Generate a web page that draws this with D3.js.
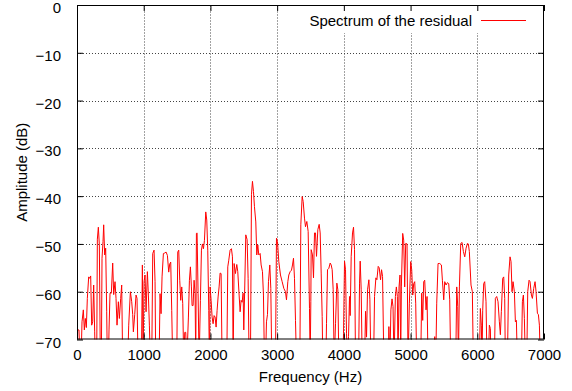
<!DOCTYPE html>
<html>
<head>
<meta charset="utf-8">
<script src="https://d3js.org/d3.v7.min.js"></script>
<style>
  body { margin: 0; background: #fff; }
  text { font-family: "Liberation Sans", Arial, sans-serif; }
</style>
</head>
<body>
<svg id="chart" width="572" height="391"></svg>
<script>
var xTicks = [0, 1000, 2000, 3000, 4000, 5000, 6000, 7000]
var yTicks = [0, -10, -20, -30, -40, -50, -60, -70]
var seriesName = 'Spectrum of the residual'

// [frequency Hz, amplitude dB]; values below -70 are off the plot
var spectrum = [
  [0,-75],[10,-68],[30,-68],[45,-75],[60,-75],[75,-66.3],[95,-63.8],[110,-68],[125,-65.6],[140,-67.5],
  [155,-61.4],[175,-56.9],[190,-57.2],[205,-56.7],[220,-67],[235,-66.3],[250,-58.6],[265,-68.4],[275,-75],
  [295,-75],[305,-49],[320,-46.5],[335,-50.2],[350,-75],[365,-75],[375,-53],[390,-49.5],[400,-46],
  [415,-52.3],[430,-50.9],[445,-64.2],[455,-75],[470,-75],[480,-68],[495,-60.3],[515,-60.3],[535,-54],
  [550,-60.6],[570,-57.9],[585,-61.4],[600,-67],[620,-62.1],[635,-65.6],[655,-61.4],[670,-58.6],[685,-75],
  [760,-75],[775,-67],[800,-60],[820,-62.1],[835,-64.8],[845,-68.4],[865,-64.8],[885,-60.7],[900,-61.4],
  [915,-75],[965,-75],[980,-54.4],[990,-75],[1005,-57.9],[1020,-56.5],[1035,-64.2],[1055,-55.8],
  [1070,-60.7],[1085,-67],[1100,-75],[1120,-75],[1135,-52],[1155,-51.3],[1170,-57.9],[1180,-75],
  [1230,-75],[1245,-60.4],[1260,-64.6],[1275,-56.9],[1295,-52],[1315,-51.9],[1335,-51.7],[1355,-52.4],
  [1375,-55.9],[1390,-54.2],[1405,-53.8],[1420,-63.9],[1435,-75],[1495,-75],[1510,-51.7],[1525,-51.3],
  [1540,-57.6],[1555,-61.8],[1570,-59],[1585,-62.5],[1600,-75],[1615,-68.5],[1630,-68.5],[1645,-75],
  [1670,-65.3],[1685,-57.6],[1700,-54.8],[1715,-59],[1725,-62.9],[1740,-62.9],[1755,-57.6],[1770,-60.4],
  [1780,-75],[1790,-47.8],[1800,-47.7],[1815,-60.4],[1830,-75],[1850,-61.8],[1865,-51.3],[1880,-50],
  [1895,-51],[1910,-49.3],[1930,-43.3],[1945,-45],[1960,-51.3],[1975,-63.9],[1985,-75],[1995,-59],
  [2010,-61.8],[2025,-65.3],[2040,-66.7],[2055,-65],[2070,-65.3],[2085,-67.4],[2100,-63.9],[2115,-61.1],
  [2130,-59],[2145,-56.1],[2160,-56.2],[2175,-75],[2245,-75],[2260,-54.8],[2275,-53.4],[2295,-51.3],
  [2315,-51],[2330,-52.7],[2340,-75],[2355,-54.1],[2375,-56.2],[2395,-54.3],[2410,-55.8],[2430,-60.7],
  [2445,-64.2],[2460,-61.8],[2475,-62.2],[2490,-60.3],[2500,-68],[2515,-58.6],[2530,-48.1],[2550,-49.1],
  [2565,-57.2],[2580,-75],[2600,-75],[2615,-39.7],[2630,-36.9],[2645,-39],[2660,-42.2],[2680,-45.4],
  [2695,-52.3],[2710,-50.2],[2725,-52.3],[2745,-52],[2760,-54.4],[2780,-55.8],[2795,-60.7],[2810,-75],
  [2825,-75],[2840,-66.3],[2855,-64.8],[2870,-57.9],[2890,-54.4],[2905,-59.3],[2920,-75],[2975,-75],
  [2990,-48.8],[3005,-49.5],[3025,-53.7],[3050,-56.5],[3075,-57.9],[3100,-59.3],[3125,-60],[3140,-61.7],
  [3160,-57.9],[3175,-56.5],[3195,-55.8],[3215,-55.5],[3230,-54.4],[3245,-53],[3260,-57.2],[3275,-66],
  [3290,-75],[3340,-75],[3355,-46],[3375,-40.1],[3390,-41.1],[3410,-44.6],[3425,-46.4],[3445,-45.3],
  [3465,-47.4],[3485,-63.5],[3495,-75],[3505,-62],[3510,-51.2],[3530,-52.3],[3545,-57.1],[3560,-47.7],
  [3575,-47.7],[3590,-52.6],[3610,-47],[3630,-45.9],[3645,-47.7],[3660,-56.1],[3675,-65.2],[3685,-75],
  [3730,-75],[3740,-66.7],[3755,-55.4],[3775,-55.1],[3795,-54],[3810,-54.4],[3825,-55.4],[3840,-59.6],
  [3855,-75],[3875,-66.7],[3895,-58.2],[3910,-59.6],[3925,-75],[3985,-75],[3995,-68.8],[4010,-53.6],
  [4025,-55.4],[4040,-68.8],[4055,-75],[4070,-69.4],[4085,-61],[4095,-65],[4110,-52.6],[4130,-47.7],
  [4145,-46.5],[4160,-51.2],[4175,-75],[4220,-75],[4235,-58.2],[4245,-53.6],[4260,-59.6],[4275,-75],
  [4310,-75],[4325,-64.1],[4340,-69.5],[4355,-59.6],[4375,-57.5],[4390,-61.7],[4405,-75],[4445,-75],
  [4460,-61],[4480,-57.1],[4495,-57.5],[4515,-54.7],[4530,-55],[4550,-57.5],[4565,-55.4],[4580,-56.8],
  [4600,-75],[4665,-75],[4675,-67.3],[4690,-75],[4705,-63.8],[4722,-61.5],[4737,-63.1],[4752,-75],
  [4772,-61],[4787,-59],[4802,-61],[4812,-75],[4827,-59],[4842,-56.5],[4852,-75],[4862,-59],[4882,-47.8],
  [4897,-49.2],[4912,-59],[4927,-49.9],[4947,-50],[4962,-75],[4982,-62.4],[5002,-53.7],[5017,-55.4],
  [5032,-60.7],[5047,-58.3],[5062,-57.9],[5077,-62.4],[5092,-75],[5152,-75],[5167,-60.3],[5182,-66],
  [5197,-57.9],[5212,-57.6],[5232,-63.8],[5247,-61],[5262,-75],[5352,-75],[5362,-69.4],[5377,-75],
  [5392,-62.4],[5412,-54.1],[5437,-54.1],[5462,-54.4],[5477,-57.6],[5497,-61.7],[5512,-57.9],[5532,-58.6],
  [5552,-58.1],[5572,-58.3],[5587,-61.7],[5602,-75],[5677,-75],[5692,-59],[5707,-63.1],[5717,-75],
  [5732,-59],[5752,-49.9],[5772,-49.7],[5792,-51.6],[5812,-52.7],[5832,-50.9],[5852,-49.9],[5866,-50],
  [5881,-51.6],[5906,-58.6],[5926,-60],[5941,-75],[6031,-75],[6046,-63.5],[6061,-67],[6071,-75],
  [6081,-64],[6096,-58.3],[6111,-57.9],[6131,-62.1],[6146,-75],[6166,-75],[6181,-67],[6196,-67.7],
  [6206,-75],[6256,-75],[6271,-61.4],[6291,-61],[6311,-62.1],[6331,-66.3],[6346,-69],[6361,-64.1],
  [6381,-57.2],[6396,-56.9],[6411,-61.4],[6421,-75],[6451,-75],[6471,-56.5],[6491,-52.7],[6506,-53.7],
  [6521,-60],[6536,-57.9],[6556,-60],[6571,-66.3],[6586,-66],[6601,-75],[6661,-75],[6676,-62.1],
  [6691,-60.7],[6706,-65.6],[6721,-75],[6741,-75],[6756,-60],[6776,-57.6],[6791,-57.9],[6811,-60.7],
  [6826,-61.4],[6846,-59.3],[6866,-57.9],[6881,-60],[6901,-64.5],[6916,-64.8],[6931,-67],[6945,-75]
]

var svg = d3.select('#chart')
var margin = { left: 77, right: 28, top: 5, bottom: 51.5 }
var width = +svg.attr('width')
var height = +svg.attr('height')
var x0 = margin.left, x1 = width - margin.right
var y0 = height - margin.bottom, y1 = margin.top

var xscale = d3.scaleLinear().domain([0, 7000]).range([x0, x1])
var yscale = d3.scaleLinear().domain([-70, 0]).range([y0, y1])
var minus = function (v) { return v < 0 ? '\u2212' + Math.abs(v) : '' + v }

svg.append('clipPath').attr('id', 'plotclip')
  .append('rect').attr('x', x0).attr('y', y1).attr('width', x1 - x0).attr('height', y0 - y1)

// dotted grid
var grid = svg.append('g').attr('stroke', '#444').attr('stroke-width', 1).attr('stroke-dasharray', '1,2')
grid.selectAll('.gx').data(xTicks.slice(1, -1)).enter().append('line')
  .attr('x1', d => Math.round(xscale(d)) + 0.5).attr('x2', d => Math.round(xscale(d)) + 0.5)
  .attr('y1', y0).attr('y2', y1)
grid.selectAll('.gy').data(yTicks.slice(1, -1)).enter().append('line')
  .attr('y1', d => Math.round(yscale(d)) + 0.5).attr('y2', d => Math.round(yscale(d)) + 0.5)
  .attr('x1', x0).attr('x2', x1)

// key area is blanked like gnuplot does
svg.append('rect').attr('x', 292).attr('y', y1 + 1).attr('width', x1 - 293).attr('height', 27).attr('fill', '#fff')

// spectrum
var line = d3.line().x(d => xscale(d[0])).y(d => yscale(d[1]))
svg.append('path').datum(spectrum)
  .attr('clip-path', 'url(#plotclip)')
  .attr('fill', 'none').attr('stroke', '#ff0000').attr('stroke-width', 1)
  .attr('stroke-linejoin', 'round')
  .attr('d', line)

// axes: ticks inward, mirrored
var tl = 6
svg.append('g').attr('transform', 'translate(0,' + y0 + ')')
  .call(d3.axisBottom(xscale).tickValues(xTicks).tickSizeInner(-tl).tickSizeOuter(0).tickPadding(10).tickFormat(minus))
svg.append('g').attr('transform', 'translate(0,' + y1 + ')')
  .call(d3.axisTop(xscale).tickValues(xTicks).tickSizeInner(-tl).tickSizeOuter(0).tickFormat(''))
var yax = svg.append('g').attr('transform', 'translate(' + x0 + ',0)')
  .call(d3.axisLeft(yscale).tickValues(yTicks).tickSizeInner(-tl).tickSizeOuter(0).tickPadding(16).tickFormat(minus))
yax.selectAll('.tick text').attr('dy', '0.5em')
svg.append('g').attr('transform', 'translate(' + x1 + ',0)')
  .call(d3.axisRight(yscale).tickValues(yTicks).tickSizeInner(-tl).tickSizeOuter(0).tickFormat(''))
svg.selectAll('.domain').remove()
svg.selectAll('.tick text').attr('font-size', 15).attr('font-family', '"Liberation Sans", Arial, sans-serif').attr('fill', '#000')
svg.selectAll('.tick line').attr('stroke', '#000')

svg.append('rect').attr('x', x0 + 0.5).attr('y', y1 + 0.5).attr('width', x1 - x0 - 1).attr('height', y0 - y1 - 1)
  .attr('fill', 'none').attr('stroke', '#000').attr('stroke-width', 1)

// labels
svg.append('text').text('Frequency (Hz)').attr('x', (x0 + x1) / 2).attr('y', 382)
  .attr('text-anchor', 'middle').attr('font-size', 15)
svg.append('text').text('Amplitude (dB)')
  .attr('transform', 'translate(27,' + (y0 + y1) / 2 + ') rotate(-90)')
  .attr('text-anchor', 'middle').attr('font-size', 15)

// key
svg.append('text').text(seriesName).attr('x', 472).attr('y', 26)
  .attr('text-anchor', 'end').attr('font-size', 15)
svg.append('line').attr('x1', 481).attr('x2', 526).attr('y1', 20.5).attr('y2', 20.5)
  .attr('stroke', '#ff0000').attr('stroke-width', 1)
</script>
</body>
</html>
